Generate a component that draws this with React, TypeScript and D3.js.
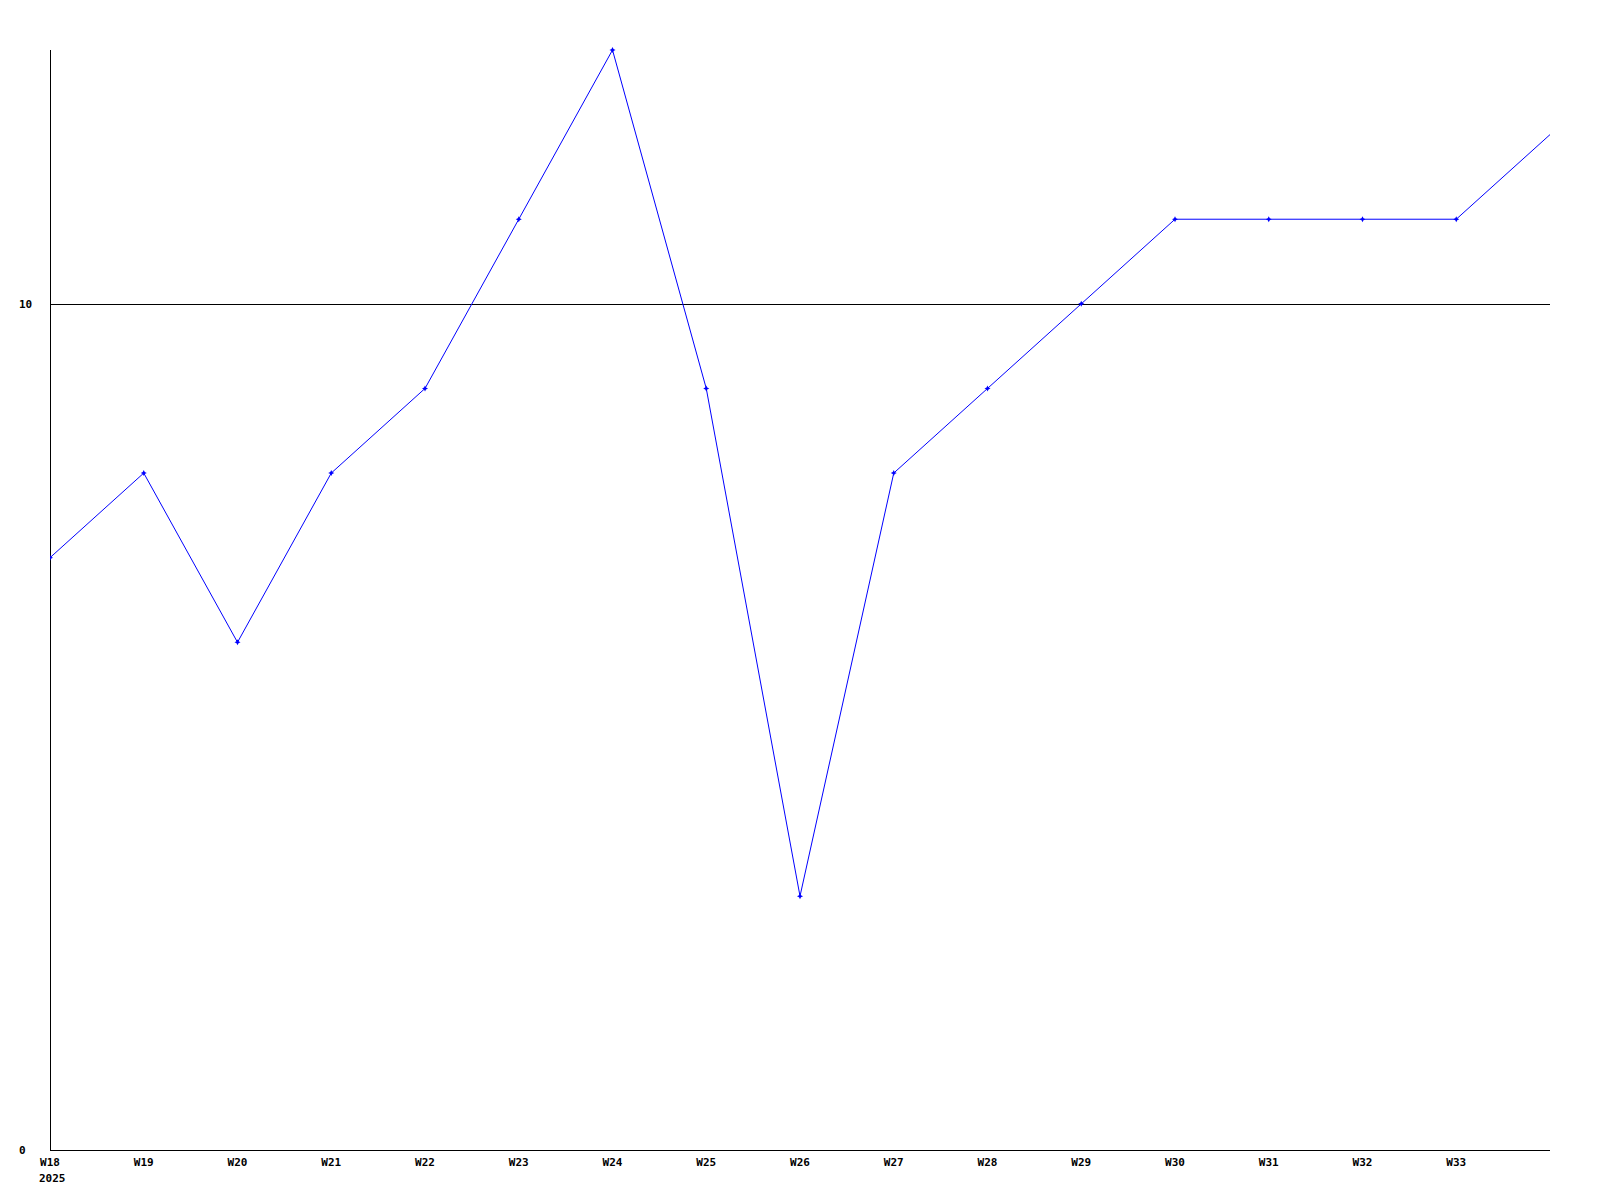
import React from "react";
import * as d3 from "d3";

const weeks = ["W18","W19","W20","W21","W22","W23","W24","W25","W26","W27","W28","W29","W30","W31","W32","W33","W34"];
const values = [7, 8, 6, 8, 9, 11, 13, 9, 3, 8, 9, 10, 11, 11, 11, 11, 12];
const tickWeeks = weeks.slice(0, 16);
const yTicks = [0, 10];
const yearLabel = "2025";

export default function App() {
  const W = 1600, H = 1200;
  const left = 50, right = 1550, top = 50, bottom = 1150;
  const x = d3.scaleLinear().domain([0, weeks.length - 1]).range([left, right]);
  const y = d3.scaleLinear().domain([0, 13]).range([bottom, top]);
  const line = d3.line<number>().x((_, i) => x(i)).y((d) => y(d));
  const font = { fontFamily: "'DejaVu Sans Mono', monospace", fontWeight: 700, fontSize: 11 } as const;
  return (
    <svg width={W} height={H} style={{ position: "absolute", left: 0, top: 0, background: "#fff" }}>
      <rect x={0} y={0} width={W} height={H} fill="#fff" />
      {yTicks.map((t) => (
        <g key={t}>
          {t !== 0 && <line x1={left} x2={right} y1={Math.round(y(t)) + 0.5} y2={Math.round(y(t)) + 0.5} stroke="#000" />}
          <text x={19} y={y(t)} dy="0.35em" {...font}>{t}</text>
        </g>
      ))}
      <line x1={left + 0.5} x2={left + 0.5} y1={top} y2={bottom} stroke="#000" />
      <line x1={left} x2={right} y1={bottom + 0.5} y2={bottom + 0.5} stroke="#000" />
      {tickWeeks.map((w, i) => (
        <text key={w} x={x(i)} y={1166} textAnchor="middle" {...font}>{w}</text>
      ))}
      <text x={39} y={1182} {...font}>{yearLabel}</text>
      <defs>
        <clipPath id="plot"><rect x={left} y={0} width={right - left} height={bottom} /></clipPath>
      </defs>
      <g clipPath="url(#plot)">
        <path d={line(values) ?? ""} fill="none" stroke="#0000ff" strokeWidth={1} />
        {values.slice(0, values.length - 1).map((v, i) => (
          <path key={i} transform={`translate(${x(i)},${y(v)})`} d="M0,-3L1,-1L3,0L1,1L0,3L-1,1L-3,0L-1,-1Z" fill="#0000ff" />
        ))}
      </g>
    </svg>
  );
}
